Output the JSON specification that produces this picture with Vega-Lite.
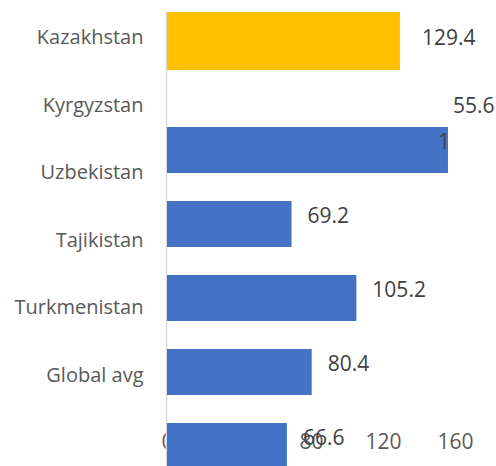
{
  "$schema": "https://vega.github.io/schema/vega-lite/v6.json",
  "width": 324,
  "height": 454,
  "autosize": {"type": "none"},
  "padding": {"left": 167, "top": 12, "right": 5, "bottom": 0},
  "background": "white",
  "config": {"view": {"stroke": null}, "font": "Open Sans"},
  "data": {
    "values": [
      {"country": "Kazakhstan", "value": 129.4, "label": "129.4"},
      {"country": "Kyrgyzstan", "value": 55.6, "label": "55.6"},
      {"country": "Uzbekistan", "value": 156.1, "label": "1"},
      {"country": "Tajikistan", "value": 69.2, "label": "69.2"},
      {"country": "Turkmenistan", "value": 105.2, "label": "105.2"},
      {"country": "Global avg", "value": 80.4, "label": "80.4"},
      {"country": "", "value": 66.6, "label": "66.6"}
    ]
  },
  "layer": [
    {
      "mark": {"type": "point", "opacity": 0},
      "encoding": {
        "y": {
          "field": "country",
          "type": "nominal",
          "sort": null,
          "scale": {
            "type": "point",
            "domain": ["Kazakhstan", "Kyrgyzstan", "Uzbekistan", "Tajikistan", "Turkmenistan", "Global avg", ""],
            "padding": 0.358,
            "align": 0.527
          },
          "axis": {
            "title": null,
            "ticks": false,
            "grid": false,
            "labelPadding": 23,
            "offset": 1,
            "domainColor": "#d9d9d9",
            "domainWidth": 1.5,
            "labelFont": "Open Sans",
            "labelFontSize": 20,
            "labelColor": "#595959",
            "zindex": 0
          }
        }
      }
    },
    {
      "encoding": {
        "y": {
          "field": "country",
          "type": "nominal",
          "sort": null,
          "scale": {
            "type": "point",
            "domain": ["Kazakhstan", "gap1", "Kyrgyzstan", "Uzbekistan", "gap4", "Tajikistan", "gap6", "Turkmenistan", "gap8", "Global avg", "gap10", ""],
            "padding": 0.6351,
            "align": 0.5745
          },
          "axis": null
        },
        "x": {
          "field": "value",
          "type": "quantitative",
          "scale": {"domain": [0, 180], "nice": false},
          "axis": {
            "title": null,
            "values": [0, 40, 80, 120, 160],
            "orient": "bottom",
            "offset": -37,
            "domain": false,
            "ticks": false,
            "grid": false,
            "labelPadding": 2,
            "labelFlush": false,
            "labelOverlap": false,
            "labelFont": "Open Sans",
            "labelFontSize": 21,
            "labelColor": "#595959",
            "zindex": 0
          }
        }
      },
      "layer": [
        {
          "transform": [{"filter": "datum.country == 'Kazakhstan'"}],
          "mark": {"type": "bar", "color": "#FFC000", "height": 58, "yOffset": 2}
        },
        {
          "transform": [{"filter": "datum.country != 'Kazakhstan' && datum.country != 'Kyrgyzstan'"}],
          "mark": {"type": "bar", "color": "#4472C4", "height": 46}
        },
        {
          "transform": [{"filter": "datum.country == 'Kazakhstan'"}],
          "mark": {"type": "text", "align": "left", "baseline": "middle", "dx": 22, "dy": 0, "fontSize": 21, "font": "Open Sans", "color": "#404040"},
          "encoding": {"text": {"field": "label"}}
        },
        {
          "transform": [{"filter": "datum.country == 'Tajikistan' || datum.country == 'Turkmenistan' || datum.country == 'Global avg' || datum.country == ''"}],
          "mark": {"type": "text", "align": "left", "baseline": "middle", "dx": 16, "dy": -7, "fontSize": 21, "font": "Open Sans", "color": "#404040"},
          "encoding": {"text": {"field": "label"}}
        },
        {
          "transform": [{"filter": "datum.country == 'Kyrgyzstan'"}],
          "mark": {"type": "text", "align": "left", "baseline": "middle", "dx": -2, "dy": -6, "fontSize": 21, "font": "Open Sans", "color": "#404040"},
          "encoding": {"text": {"field": "label"}, "x": {"datum": 160, "type": "quantitative"}}
        },
        {
          "transform": [{"filter": "datum.country == 'Uzbekistan'"}],
          "mark": {"type": "text", "align": "right", "baseline": "middle", "dx": 2, "dy": -7, "fontSize": 21, "font": "Open Sans", "color": "#404040"},
          "encoding": {"text": {"field": "label"}}
        }
      ]
    }
  ],
  "resolve": {"scale": {"y": "independent"}}
}
